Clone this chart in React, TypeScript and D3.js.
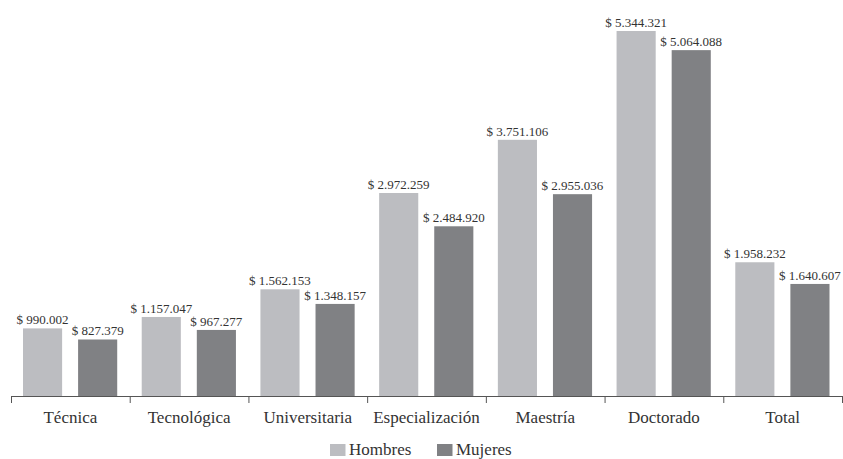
import React from "react";
import * as d3 from "d3";

const categories = ["Técnica", "Tecnológica", "Universitaria", "Especialización", "Maestría", "Doctorado", "Total"];
const hombres = [990002, 1157047, 1562153, 2972259, 3751106, 5344321, 1958232];
const mujeres = [827379, 967277, 1348157, 2484920, 2955036, 5064088, 1640607];
const seriesNames = ["Hombres", "Mujeres"];
const colors = ["#bcbdc1", "#808184"];

const W = 843, H = 459;
const left = 11, right = 842, base = 396, top = 31;

const fmt = (v: number) => "$ " + d3.format(",")(v).replace(/,/g, ".");

export default function App() {
  const x0 = d3.scaleBand<string>().domain(categories).range([left, right]).paddingInner(0).paddingOuter(0);
  const x1 = d3.scaleBand<string>().domain(seriesNames).range([12, x0.bandwidth() - 12.5]).paddingInner(0.29);
  const y = d3.scaleLinear().domain([0, d3.max(hombres) as number]).range([base, top]);
  const data = [hombres, mujeres];
  const fontStyle = { fontFamily: "Liberation Serif" };
  const ticks = categories.map((c) => x0(c) as number).concat([right]);
  return (
    <svg width={W} height={H} style={{ position: "absolute", left: 0, top: 0, background: "#fff" }}>
      {categories.map((c, i) => (
        <g key={c} transform={`translate(${x0(c)},0)`}>
          {seriesNames.map((s, j) => {
            const v = data[j][i];
            const bx = x1(s) as number;
            const bw = x1.bandwidth();
            return (
              <g key={s}>
                <rect x={bx} y={y(v)} width={bw} height={base - y(v)} fill={colors[j]} />
                <text x={bx + bw / 2} y={y(v) - 4} textAnchor="middle" style={fontStyle} fontSize={13} fill="#333">
                  {fmt(v)}
                </text>
              </g>
            );
          })}
          <text x={x0.bandwidth() / 2} y={423} textAnchor="middle" style={fontStyle} fontSize={17} fill="#333">
            {c}
          </text>
        </g>
      ))}
      <line x1={left} x2={right} y1={base + 0.5} y2={base + 0.5} stroke="#555" strokeWidth={1} />
      {ticks.map((t, i) => (
        <line key={i} x1={t + 0.5} x2={t + 0.5} y1={base} y2={base + 7} stroke="#555" strokeWidth={1} />
      ))}
      <g>
        {seriesNames.map((s, j) => {
          const lx = j === 0 ? 330 : 437;
          return (
            <g key={s}>
              <rect x={lx} y={444} width={15.5} height={12} fill={colors[j]} />
              <text x={lx + 19} y={455} style={fontStyle} fontSize={17} fill="#333">
                {s}
              </text>
            </g>
          );
        })}
      </g>
    </svg>
  );
}
